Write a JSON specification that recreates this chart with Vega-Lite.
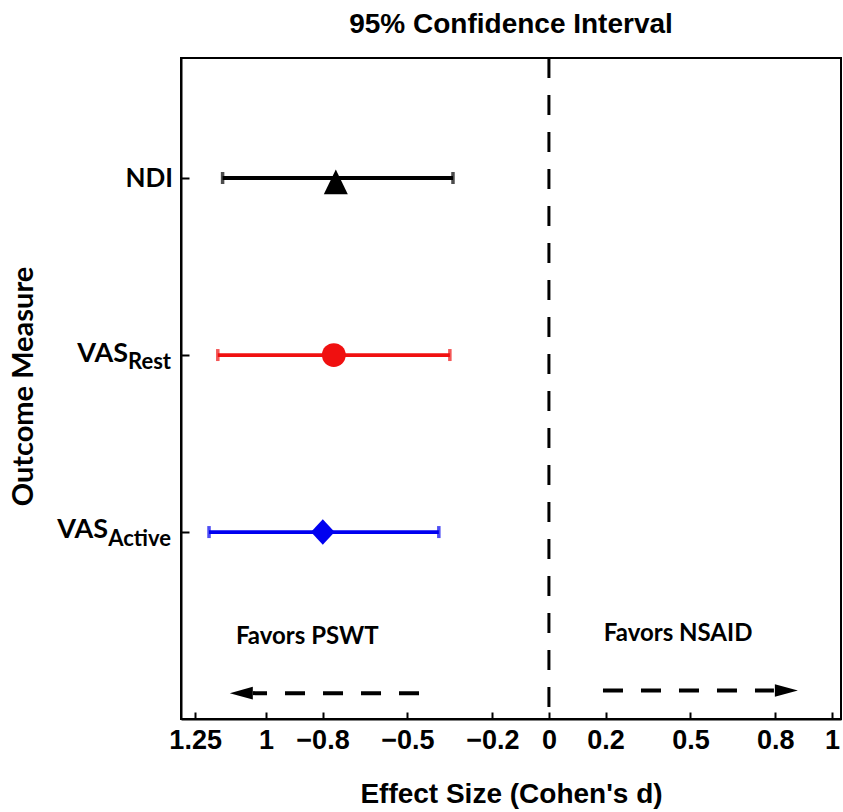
{
  "$schema": "https://vega.github.io/schema/vega-lite/v6.json",
  "width": 660,
  "height": 661,
  "autosize": {"type": "none"},
  "padding": {"left": 181, "top": 58, "right": 2, "bottom": 93},
  "background": "white",
  "title": {"text": "95% Confidence Interval", "font": "Liberation Sans", "fontSize": 28, "fontWeight": "bold", "color": "black", "anchor": "middle", "offset": 18},
  "config": {"view": {"stroke": "black", "strokeWidth": 2}},
  "datasets": {
    "ci": [
      {"measure": "NDI", "row": 3, "est": -0.753, "lo": -1.153, "hi": -0.339, "main": "NDI", "sub": ""},
      {"measure": "VAS Rest", "row": 2, "est": -0.760, "lo": -1.170, "hi": -0.350, "main": "VAS", "sub": "Rest"},
      {"measure": "VAS Active", "row": 1, "est": -0.799, "lo": -1.201, "hi": -0.389, "main": "VAS", "sub": "Active"}
    ],
    "ref": [{"d": 0}],
    "notes": [
      {"text": "Favors PSWT", "x": -1.106, "y": 0.407},
      {"text": "Favors NSAID", "x": 0.194, "y": 0.424}
    ],
    "arrows": [
      {"dir": "left", "from": -0.459, "to": -1.046, "head": -1.087, "y": 0.09},
      {"dir": "right", "from": 0.191, "to": 0.795, "head": 0.839, "y": 0.105}
    ]
  },
  "layer": [
    {
      "data": {"name": "ci"},
      "mark": {"type": "rule", "strokeWidth": 3.8},
      "encoding": {
        "x": {
          "field": "lo", "type": "quantitative",
          "scale": {"domain": [-1.3, 1.032], "nice": false, "zero": false},
          "axis": {
            "values": [-1.25, -1, -0.8, -0.5, -0.2, 0, 0.2, 0.5, 0.8, 1],
            "format": "~g",
            "labelExpr": "datum.value == -1.25 ? '1.25' : (datum.value == -1 ? '1' : datum.label)",
            "grid": false, "tickSize": -7, "tickWidth": 2, "tickColor": "black",
            "domainColor": "black", "domainWidth": 2,
            "labelFont": "Liberation Sans", "labelFontSize": 27, "labelFontWeight": "bold", "labelColor": "black",
            "labelPadding": 36, "labelBaseline": "alphabetic", "labelFlush": false, "labelOverlap": false,
            "title": "Effect Size (Cohen's d)", "titleFont": "Liberation Sans", "titleFontSize": 28, "titleFontWeight": "bold", "titleColor": "black",
            "titleBaseline": "alphabetic", "titleY": 83
          }
        },
        "x2": {"field": "hi"},
        "y": {
          "field": "row", "type": "quantitative",
          "scale": {"domain": [-0.056, 3.678], "nice": false, "zero": false},
          "axis": {
            "values": [1, 2, 3], "labels": false, "grid": false,
            "tickSize": -8, "tickWidth": 2, "tickColor": "black",
            "domainColor": "black", "domainWidth": 2,
            "title": "Outcome Measure", "titleFont": "Lato", "titleFontSize": 29, "titleFontWeight": "bold", "titleColor": "black",
            "titleAngle": -90, "titleX": -158, "titleY": 328, "titleBaseline": "middle", "titleAlign": "center"
          }
        },
        "color": {"field": "measure", "type": "nominal", "scale": {"domain": ["NDI", "VAS Rest", "VAS Active"], "range": ["#000000", "#f01010", "#0000f0"]}, "legend": null}
      }
    },
    {
      "data": {"name": "ref"},
      "mark": {"type": "rule", "strokeDash": [20, 17], "strokeWidth": 3, "color": "black"},
      "encoding": {"x": {"field": "d", "type": "quantitative"}}
    },
    {
      "data": {"name": "ci"},
      "mark": {"type": "tick", "orient": "vertical", "size": 12, "thickness": 3.5},
      "encoding": {
        "x": {"field": "lo", "type": "quantitative"},
        "y": {"field": "row", "type": "quantitative"},
        "color": {"field": "measure", "type": "nominal", "legend": null}
      }
    },
    {
      "data": {"name": "ci"},
      "mark": {"type": "tick", "orient": "vertical", "size": 12, "thickness": 3.5},
      "encoding": {
        "x": {"field": "hi", "type": "quantitative"},
        "y": {"field": "row", "type": "quantitative"},
        "color": {"field": "measure", "type": "nominal", "legend": null}
      }
    },
    {
      "data": {"name": "ci"},
      "mark": {"type": "point", "filled": true, "opacity": 1},
      "encoding": {
        "x": {"field": "est", "type": "quantitative"},
        "y": {"field": "row", "type": "quantitative"},
        "color": {"field": "measure", "type": "nominal", "legend": null},
        "shape": {"field": "measure", "type": "nominal", "scale": {"domain": ["NDI", "VAS Rest", "VAS Active"], "range": ["M0,-0.7L-1,1.35L1,1.35Z", "circle", "M-1,0L0,-1.08L1,0L0,1.08Z"]}, "legend": null},
        "size": {"field": "measure", "type": "nominal", "scale": {"domain": ["NDI", "VAS Rest", "VAS Active"], "range": [576, 560, 640]}, "legend": null}
      }
    },
    {
      "data": {"name": "ci"},
      "transform": [{"filter": "datum.measure == 'NDI'"}],
      "mark": {"type": "text", "align": "right", "baseline": "alphabetic", "dx": -8, "dy": 9, "font": "Lato", "fontSize": 26, "fontWeight": "bold", "color": "black"},
      "encoding": {
        "x": {"datum": -1.3, "type": "quantitative"},
        "y": {"field": "row", "type": "quantitative"},
        "text": {"field": "main"}
      }
    },
    {
      "data": {"name": "ci"},
      "transform": [{"filter": "datum.measure == 'VAS Rest'"}],
      "mark": {"type": "text", "align": "right", "baseline": "alphabetic", "dx": -53, "dy": 7, "font": "Lato", "fontSize": 27, "fontWeight": "bold", "color": "black"},
      "encoding": {
        "x": {"datum": -1.3, "type": "quantitative"},
        "y": {"field": "row", "type": "quantitative"},
        "text": {"field": "main"}
      }
    },
    {
      "data": {"name": "ci"},
      "transform": [{"filter": "datum.measure == 'VAS Active'"}],
      "mark": {"type": "text", "align": "right", "baseline": "alphabetic", "dx": -73, "dy": 6, "font": "Lato", "fontSize": 27, "fontWeight": "bold", "color": "black"},
      "encoding": {
        "x": {"datum": -1.3, "type": "quantitative"},
        "y": {"field": "row", "type": "quantitative"},
        "text": {"field": "main"}
      }
    },
    {
      "data": {"name": "ci"},
      "transform": [{"filter": "datum.sub != ''"}],
      "mark": {"type": "text", "align": "right", "baseline": "alphabetic", "dx": -10, "dy": 14, "font": "Lato", "fontSize": 22, "fontWeight": "bold", "color": "black"},
      "encoding": {
        "x": {"datum": -1.3, "type": "quantitative"},
        "y": {"field": "row", "type": "quantitative"},
        "text": {"field": "sub"}
      }
    },
    {
      "data": {"name": "notes"},
      "mark": {"type": "text", "align": "left", "baseline": "middle", "font": "Lato", "fontSize": 24, "fontWeight": "bold", "color": "black"},
      "encoding": {
        "x": {"field": "x", "type": "quantitative"},
        "y": {"field": "y", "type": "quantitative"},
        "text": {"field": "text"}
      }
    },
    {
      "data": {"name": "arrows"},
      "mark": {"type": "rule", "strokeDash": [20, 18], "strokeWidth": 4, "color": "black"},
      "encoding": {
        "x": {"field": "from", "type": "quantitative"},
        "x2": {"field": "to"},
        "y": {"field": "y", "type": "quantitative"}
      }
    },
    {
      "data": {"name": "arrows"},
      "transform": [{"filter": "datum.dir == 'left'"}],
      "mark": {"type": "point", "filled": true, "opacity": 1, "color": "black", "size": 529, "shape": "M-1,0L1,-0.55L1,0.55Z"},
      "encoding": {
        "x": {"field": "head", "type": "quantitative"},
        "y": {"field": "y", "type": "quantitative"}
      }
    },
    {
      "data": {"name": "arrows"},
      "transform": [{"filter": "datum.dir == 'right'"}],
      "mark": {"type": "point", "filled": true, "opacity": 1, "color": "black", "size": 529, "shape": "M1,0L-1,-0.55L-1,0.55Z"},
      "encoding": {
        "x": {"field": "head", "type": "quantitative"},
        "y": {"field": "y", "type": "quantitative"}
      }
    }
  ]
}
